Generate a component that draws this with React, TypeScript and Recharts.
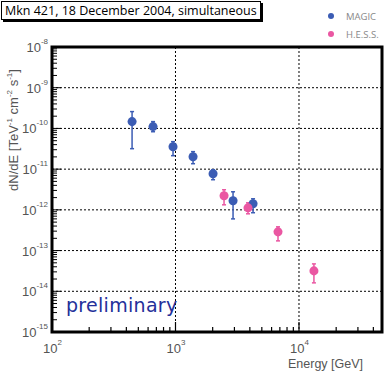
import React from "react";
import {
  ScatterChart,
  Scatter,
  XAxis,
  YAxis,
  ZAxis,
  CartesianGrid,
  ErrorBar,
  ReferenceArea,
  Label,
} from "recharts";

// MAGIC points: energy [GeV], flux, error bounds
const magicEnergy = [445, 658, 955, 1387, 2014, 2924, 4246];
const magicFlux = [1.47e-10, 1.11e-10, 3.56e-11, 2.02e-11, 7.7e-12, 1.67e-12, 1.41e-12];
const magicLow = [3.18e-11, 8.3e-11, 2.14e-11, 1.36e-11, 5.5e-12, 6.0e-13, 8.5e-13];
const magicHigh = [2.59e-10, 1.47e-10, 4.73e-11, 2.69e-11, 9.7e-12, 2.78e-12, 1.87e-12];

// H.E.S.S. points
const hessEnergy = [2472, 3864, 6761, 13210];
const hessFlux = [2.22e-12, 1.12e-12, 2.88e-13, 3.17e-14];
const hessLow = [1.33e-12, 8.0e-13, 1.73e-13, 1.61e-14];
const hessHigh = [3.12e-12, 1.49e-12, 3.83e-13, 4.71e-14];

const xDecades = [100, 1000, 10000];
const yDecades = [1e-15, 1e-14, 1e-13, 1e-12, 1e-11, 1e-10, 1e-9, 1e-8];
const X_MAX = 47000;

const BLUE = "#3b5cb4";
const PINK = "#ea57a2";
const LABEL = "#555";

function buildPoints(e: number[], f: number[], lo: number[], hi: number[]) {
  return e.map((energy, i) => ({
    energy,
    flux: f[i],
    err: [f[i] - lo[i], hi[i] - f[i]],
  }));
}

const magicData = buildPoints(magicEnergy, magicFlux, magicLow, magicHigh);
const hessData = buildPoints(hessEnergy, hessFlux, hessLow, hessHigh);

// log ticks 1..9 x 10^n
function logTicks(from: number, to: number, max: number) {
  const out: number[] = [];
  for (let p = from; p <= to; p++) {
    for (let m = 1; m <= 9; m++) {
      const v = m * Math.pow(10, p);
      if (v <= max * 1.0001) out.push(v);
    }
  }
  return out;
}

const xTicks = logTicks(2, 4, X_MAX);
const yTicks = logTicks(-15, -8, 1e-8);

function isDecade(v: number) {
  const p = Math.round(Math.log10(v));
  return Math.abs(Math.pow(10, p) - v) < v * 1e-6;
}

const XTick = (props: any) => {
  const { x, y, payload } = props;
  const v = payload.value;
  const major = isDecade(v);
  const p = Math.round(Math.log10(v));
  return (
    <g>
      <line x1={x} x2={x} y1={y} y2={y - (major ? 10 : 5)} stroke="#000" strokeWidth={1.2} />
      {major && (
        <text x={x - 9} y={y + 21} fill={LABEL} fontSize={13} fontFamily="Liberation Sans, Arial, sans-serif">
          10
          <tspan dy={-8} fontSize={8}>{p}</tspan>
        </text>
      )}
    </g>
  );
};

const YTick = (props: any) => {
  const { x, y, payload } = props;
  const v = payload.value;
  const major = isDecade(v);
  const p = Math.round(Math.log10(v));
  return (
    <g>
      <line x1={x} x2={x + (major ? 9 : 5)} y1={y} y2={y} stroke="#000" strokeWidth={1} />
      {major && (
        <text x={x - 4} y={y + 5} textAnchor="end" fill={LABEL} fontSize={13} fontFamily="Liberation Sans, Arial, sans-serif">
          10
          <tspan dy={-8} fontSize={8}>{p}</tspan>
        </text>
      )}
    </g>
  );
};

const YTitle = () => (
  <text
    x={18}
    y={130}
    transform="rotate(-90 18 130)"
    textAnchor="middle"
    fill={LABEL}
    fontSize={13}
    fontFamily="Liberation Sans, Arial, sans-serif"
  >
    dN/dE [TeV
    <tspan dy={-6} fontSize={8}>-1</tspan>
    <tspan dy={6}> cm</tspan>
    <tspan dy={-6} fontSize={8}>-2</tspan>
    <tspan dy={6}> s</tspan>
    <tspan dy={-6} fontSize={8}>-1</tspan>
    <tspan dy={6}>]</tspan>
  </text>
);

const XTitle = () => (
  <text x={288} y={368} fill={LABEL} fontSize={12.5} fontFamily="Liberation Sans, Arial, sans-serif">
    Energy [GeV]
  </text>
);

export default function App() {
  return (
    <div style={{ position: "absolute", left: 0, top: 0, width: 390, height: 375, background: "#fff" }}>
      <ScatterChart width={390} height={375} margin={{ top: 47, right: 8, bottom: 0, left: 0 }}>
        <CartesianGrid
          horizontalValues={yDecades.slice(1, -1)}
          verticalValues={xDecades.slice(1)}
          stroke="#000"
          strokeDasharray="2 2"
          strokeWidth={1}
        />
        <XAxis
          type="number"
          dataKey="energy"
          scale="log"
          domain={[100, X_MAX]}
          allowDataOverflow
          ticks={xTicks}
          interval={0}
          tick={<XTick />}
          tickSize={0}
          tickMargin={0}
          tickLine={false}
          axisLine={false}
          height={43}
        >
          <Label content={<XTitle />} />
        </XAxis>
        <YAxis
          type="number"
          dataKey="flux"
          scale="log"
          domain={[1e-15, 1e-8]}
          allowDataOverflow
          ticks={yTicks}
          interval={0}
          tick={<YTick />}
          tickSize={0}
          tickMargin={0}
          tickLine={false}
          axisLine={false}
          width={52}
        >
          <Label content={<YTitle />} />
        </YAxis>
        <ZAxis range={[28, 28]} />
        <ReferenceArea
          x1={100}
          x2={X_MAX}
          y1={1e-15}
          y2={1e-8}
          fill="none"
          fillOpacity={0}
          stroke="#000"
          strokeWidth={3}
          ifOverflow="visible"
        />
        <Scatter name="MAGIC" data={magicData} fill={BLUE} isAnimationActive={false}>
          <ErrorBar dataKey="err" direction="y" width={2} stroke={BLUE} strokeWidth={1.5} isAnimationActive={false} />
        </Scatter>
        <Scatter name="H.E.S.S." data={hessData} fill={PINK} isAnimationActive={false}>
          <ErrorBar dataKey="err" direction="y" width={2} stroke={PINK} strokeWidth={1.5} isAnimationActive={false} />
        </Scatter>
      </ScatterChart>

      <div
        style={{
          position: "absolute",
          left: 1,
          top: 1,
          width: 255,
          height: 17,
          border: "1px solid #000",
          boxShadow: "2px 2px 0 #000",
          background: "#fff",
          fontFamily: "Open Sans, sans-serif",
          fontSize: 12.5,
          lineHeight: "17px",
          paddingLeft: 3,
          boxSizing: "content-box",
          whiteSpace: "nowrap",
        }}
      >
        Mkn 421, 18 December 2004, simultaneous
      </div>

      <div style={{ position: "absolute", left: 328, top: 7, fontFamily: "Open Sans, sans-serif", fontSize: 9.5, color: "#888" }}>
        {[
          ["MAGIC", BLUE],
          ["H.E.S.S.", PINK],
        ].map(([name, color]) => (
          <div key={name} style={{ display: "flex", alignItems: "center", height: 18 }}>
            <span style={{ width: 6, height: 6, borderRadius: 3, background: color, marginRight: 12 }} />
            {name}
          </div>
        ))}
      </div>

      <div
        style={{
          position: "absolute",
          left: 66,
          top: 294,
          fontFamily: "DejaVu Sans, sans-serif",
          fontSize: 19,
          color: "#24309a",
          letterSpacing: 0.3,
        }}
      >
        preliminary
      </div>
    </div>
  );
}
